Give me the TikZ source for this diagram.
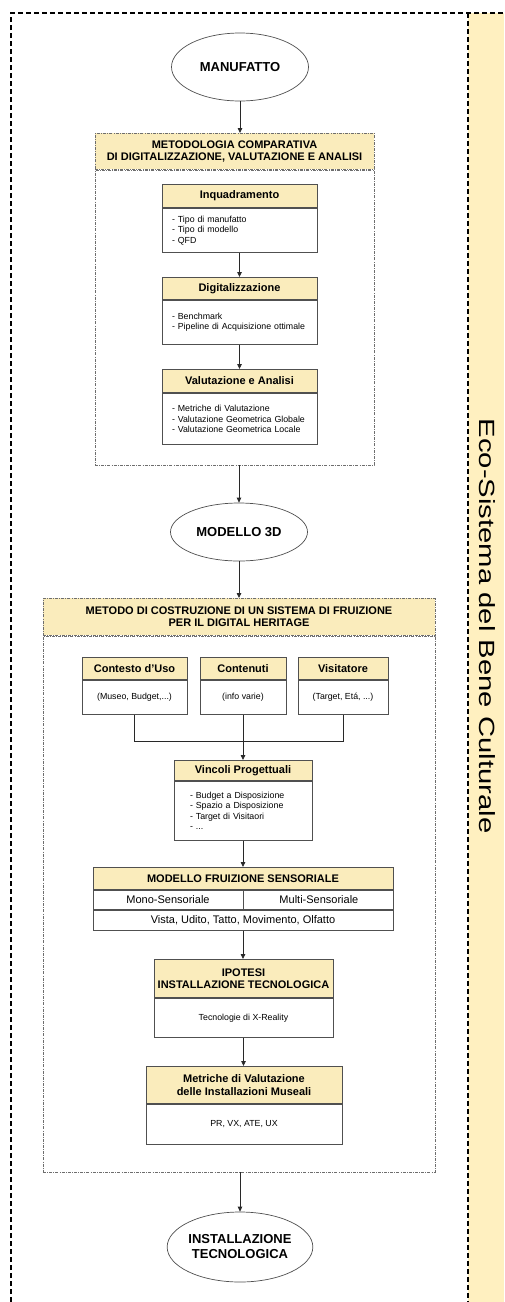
\documentclass[tikz,border=0pt]{standalone}
\usepackage{fontspec}
\setmainfont{Liberation Sans}
\usetikzlibrary{shapes.geometric,arrows.meta}

\definecolor{hdrfill}{RGB}{250,236,188}
\definecolor{stripfill}{RGB}{255,240,192}
\definecolor{boxline}{RGB}{80,80,80}
\definecolor{grpline}{RGB}{110,110,110}
\definecolor{inkline}{RGB}{40,40,40}

\tikzset{
  hdr/.style={draw=boxline, line width=0.9pt, fill=hdrfill, anchor=north, inner sep=0pt,
    align=center, font=\bfseries\fontsize{11}{12.5}\selectfont},
  bdy/.style={draw=boxline, line width=0.9pt, fill=white, anchor=north, inner sep=0pt,
    align=center, font=\fontsize{8.8}{10.3}\selectfont},
  lst/.style={bdy, align=left, inner xsep=#1},
  grp/.style={draw=grpline, line width=0.6pt,
    dash pattern=on 3pt off 1.2pt on 0.8pt off 1.2pt, anchor=north, inner sep=0pt},
  grph/.style={grp, fill=hdrfill, align=center, font=\bfseries\fontsize{11}{12}\selectfont},
  grpb/.style={grp, fill=white},
  term/.style={ellipse, draw=boxline, line width=0.7pt, fill=white, inner sep=0pt,
    align=center, font=\bfseries\fontsize{13}{15}\selectfont},
  row/.style={bdy, anchor=north west, font=\fontsize{11}{12}\selectfont},
  arr/.style={draw=inkline, line width=0.8pt, -{Triangle[length=5pt,width=4.5pt]}},
  wire/.style={draw=inkline, line width=0.8pt},
  frame/.style={draw=black, line width=1.2pt, dash pattern=on 5pt off 3pt},
}

\begin{document}
\begin{tikzpicture}[x=1pt,y=-1pt]
\useasboundingbox (0,0) rectangle (504,1302);

% side band with the eco-system title
\fill[stripfill] (468,13) rectangle (504,1302);
\draw[frame] (11,1302) -- (11,13) -- (504,13);
\draw[frame] (468,13) -- (468,1302);
\node[rotate=-90, font=\fontsize{22}{24}\selectfont] (eco) at (487,626)
  {\scalebox{1.33}[1]{Eco-Sistema del Bene Culturale}};

% start
\node[term, minimum width=137pt, minimum height=68pt] (manuf) at (240,67) {MANUFATTO};

% first method group
\node[grph, minimum width=279pt, minimum height=36pt] (g1h) at (234.5,133)
  {METODOLOGIA COMPARATIVA\\DI DIGITALIZZAZIONE, VALUTAZIONE E ANALISI};
\node[grpb, minimum width=279pt, minimum height=295pt] (g1b) at (g1h.south) {};

\node[hdr, minimum width=155pt, minimum height=23pt] (inqh) at (239.5,184) {Inquadramento};
\node[lst=10pt, text width=135pt, minimum width=155pt, minimum height=44pt] (inqb) at (inqh.south)
  {- Tipo di manufatto\\- Tipo di modello\\- QFD};

\node[hdr, minimum width=155pt, minimum height=22pt] (digh) at (239.5,277) {Digitalizzazione};
\node[lst=10pt, text width=135pt, minimum width=155pt, minimum height=44pt] (digb) at (digh.south)
  {- Benchmark\\- Pipeline di Acquisizione ottimale};

\node[hdr, minimum width=155pt, minimum height=23pt] (valh) at (239.5,369) {Valutazione e Analisi};
\node[lst=10pt, text width=135pt, minimum width=155pt, minimum height=51pt] (valb) at (valh.south)
  {- Metriche di Valutazione\\- Valutazione Geometrica Globale\\- Valutazione Geometrica Locale};

% 3D model
\node[term, minimum width=137pt, minimum height=58pt] (model) at (239,532) {MODELLO 3D};

% second method group
\node[grph, minimum width=392pt, minimum height=37pt] (g2h) at (239,598)
  {METODO DI COSTRUZIONE DI UN SISTEMA DI FRUIZIONE\\PER IL DIGITAL HERITAGE};
\node[grpb, minimum width=392pt, minimum height=536pt] (g2b) at (g2h.south) {};

\node[hdr, minimum width=105pt, minimum height=22pt] (ctxh) at (134.5,657) {Contesto d'Uso};
\node[bdy, minimum width=105pt, minimum height=34pt] (ctxb) at (ctxh.south) {(Museo, Budget,...)};

\node[hdr, minimum width=86pt, minimum height=22pt] (conh) at (243,657) {Contenuti};
\node[bdy, minimum width=86pt, minimum height=34pt] (conb) at (conh.south) {(info varie)};

\node[hdr, minimum width=90pt, minimum height=22pt] (vish) at (343,657) {Visitatore};
\node[bdy, minimum width=90pt, minimum height=34pt] (visb) at (vish.south) {(Target, Etá, ...)};

\node[hdr, minimum width=138pt, minimum height=20pt] (vinh) at (243,760) {Vincoli Progettuali};
\node[lst=16pt, text width=106pt, minimum width=138pt, minimum height=59pt] (vinb) at (vinh.south)
  {- Budget a Disposizione\\- Spazio a Disposizione\\- Target di Visitaori\\- ...};

\node[hdr, minimum width=300pt, minimum height=22pt] (mfsh) at (243,867) {MODELLO FRUIZIONE SENSORIALE};
\node[row, minimum width=150pt, minimum height=19pt] (mono) at (mfsh.south west) {Mono-Sensoriale};
\node[row, minimum width=150pt, minimum height=19pt] (multi) at (mono.north east) {Multi-Sensoriale};
\node[row, minimum width=300pt, minimum height=20pt] (vista) at (mono.south west)
  {Vista, Udito, Tatto, Movimento, Olfatto};

\node[hdr, minimum width=179pt, minimum height=38pt] (iph) at (243.5,959)
  {IPOTESI\\INSTALLAZIONE TECNOLOGICA};
\node[bdy, minimum width=179pt, minimum height=39pt] (ipb) at (iph.south) {Tecnologie di X-Reality};

\node[hdr, minimum width=196pt, minimum height=37pt] (meth) at (244,1066)
  {Metriche di Valutazione\\delle Installazioni Museali};
\node[bdy, minimum width=196pt, minimum height=40pt] (metb) at (meth.south) {PR, VX, ATE, UX};

% end
\node[term, minimum width=137pt, minimum height=70pt] (inst) at (240,1247)
  {INSTALLAZIONE\\TECNOLOGICA};

% connectors
\draw[arr] (manuf.south) -- (manuf.south |- g1h.north);
\draw[arr] (inqb.south) -- (digh.north);
\draw[arr] (digb.south) -- (valh.north);
\draw[arr] (model.north |- g1b.south) -- (model.north);
\draw[arr] (model.south) -- (model.south |- g2h.north);
\coordinate (join) at (243,741);
\draw[wire] (ctxb.south) |- (join);
\draw[wire] (visb.south) |- (join);
\draw[arr] (conb.south) -- (vinh.north);
\draw[arr] (vinb.south) -- (mfsh.north);
\draw[arr] (vista.south) -- (vista.south |- iph.north);
\draw[arr] (ipb.south) -- (ipb.south |- meth.north);
\draw[arr] (inst.north |- g2b.south) -- (inst.north);
\end{tikzpicture}
\end{document}
